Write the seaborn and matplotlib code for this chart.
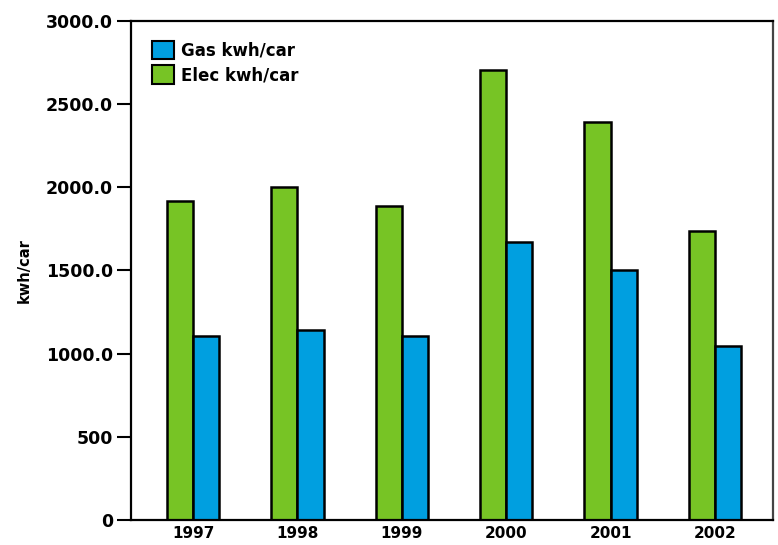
import pandas as pd
import seaborn as sns
import matplotlib.pyplot as plt
from matplotlib.patches import Patch

years = ["1997", "1998", "1999", "2000", "2001", "2002"]
elec_kwh = [1920, 2000, 1890, 2705, 2390, 1740]
gas_kwh = [1105, 1140, 1105, 1670, 1500, 1045]
ytick_vals = [0, 500, 1000, 1500, 2000, 2500, 3000]
ytick_labels = ["0", "500", "1000.0", "1500.0", "2000.0", "2500.0", "3000.0"]

green = "#77c425"
blue = "#009fe0"

df = pd.DataFrame({
    "year": years * 2,
    "kwh": elec_kwh + gas_kwh,
    "series": ["Elec kwh/car"] * len(years) + ["Gas kwh/car"] * len(years),
})

sns.set_style("white")
plt.rcParams["font.family"] = ["DejaVu Sans"]
plt.rcParams["font.weight"] = "bold"
plt.rcParams["text.color"] = "black"
plt.rcParams["xtick.color"] = "black"
plt.rcParams["ytick.color"] = "black"
plt.rcParams["axes.labelcolor"] = "black"

fig = plt.figure(figsize=(7.78, 5.45), dpi=100)
ax = fig.add_axes([0.1684, 0.0459, 0.8252, 0.9156])

sns.barplot(data=df, x="year", y="kwh", hue="series",
            hue_order=["Elec kwh/car", "Gas kwh/car"],
            palette=[green, blue], width=0.5, saturation=1,
            edgecolor="black", linewidth=1.8, ax=ax, legend=False)

ax.set_xlim(-0.594, 5.556)
ax.set_ylim(0, 3000)
ax.set_yticks(ytick_vals)
ax.set_yticklabels(ytick_labels, fontsize=12.5, fontweight="bold")
for lab in ax.get_xticklabels():
    lab.set_fontsize(11)
    lab.set_fontweight("bold")
ax.tick_params(axis="y", direction="out", length=10, width=1.5, color="black", pad=3, left=True)
ax.tick_params(axis="x", length=0, pad=4)
ax.set_xlabel("")
ax.set_ylabel("kwh/car", fontsize=10.5, fontweight="bold", labelpad=10)

for s in ax.spines.values():
    s.set_visible(True)
    s.set_color("black")
    s.set_linewidth(1.6)
ax.spines["right"].set_color("#444444")

handles = [Patch(facecolor=blue, edgecolor="black", linewidth=1.5, label="Gas kwh/car"),
           Patch(facecolor=green, edgecolor="black", linewidth=1.5, label="Elec kwh/car")]
ax.legend(handles=handles, loc="upper left", bbox_to_anchor=(0.01, 0.99),
          frameon=False, prop={"size": 12, "weight": "bold"},
          handlelength=1.3, handleheight=1.3, handletextpad=0.4, labelspacing=0.35)

fig.savefig("out.png", dpi=100)
